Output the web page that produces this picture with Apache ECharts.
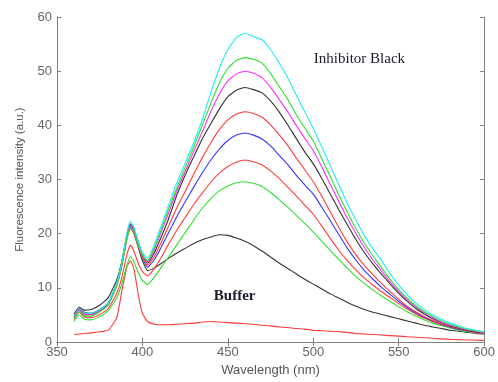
<!DOCTYPE html>
<html>
<head>
<meta charset="utf-8">
<script src="https://cdn.jsdelivr.net/npm/echarts@6/dist/echarts.min.js"></script>
<style>
  html, body { margin: 0; padding: 0; background: #fff; }
  #chart { width: 498px; height: 382px; }
</style>
</head>
<body>
<div id="chart"></div>
<script>
// wavelengths (nm), shared by every spectrum
const wavelengths = [360,363,366,370,375,380,385,388,391,393,395,398,400,403,407,411,415,420,425,430,
  435,440,445,450,455,460,465,470,475,480,485,490,495,500,505,510,515,520,525,530,
  535,540,545,550,555,560,565,570,575,580,585,590,595,600];

const cyanVals = [4.8,6.3,5.4,5.3,6,7.3,11,15,20.3,22.3, 21.2,18.2,16.5,15.5,18,21.5,25,29.3,33,36.8,
  41,46,50.5,54,56.2,57,56.4,55.8,54,51.5, 48.8,45.6,42.5,39.4,36,32.5,29,25.5,22.5,19.6,
  17.2,15,12.6,10.5,8.7,7.2,6,5,4.2,3.5, 3,2.5,2.2,1.9];
const greenVals = [4.2,5.6,4.8,4.8,5.6,6.9,10.5,14.3,19.3,21.2, 20.3,17.5,16,15,17.5,20.8,24.3,28.4,32.2,36,
  40,44,47.8,50.5,52,52.5,52.2,51.5,49.6,47.2, 44.8,42,39.5,37.1,33.8,30.5,27.1,23.9,20.9,18.2,
  15.9,13.7,11.6,9.7,8.1,6.7,5.6,4.7,3.9,3.3, 2.8,2.4,2.1,1.8];
const magentaVals = [4.6,6.1,5.2,5.1,5.8,7.1,10.7,14.6,19.6,21.5, 20.6,17.8,16.2,14.8,17.1,20.3,23.6,27.8,31.5,35.2,
  38.8,42.5,45.8,48.2,49.5,50,49.6,48.8,47,44.8, 42.5,40,37.6,35.3,32.3,29.1,25.9,22.8,20,17.4,
  15.1,13.1,11.1,9.3,7.8,6.5,5.4,4.5,3.7,3.1, 2.7,2.3,2,1.7];
const blackVals = [5,6.4,5.5,5.3,6,7.2,10.8,14.8,19.9,21.8, 20.8,18,16.1,14.6,16.5,19.4,22.5,27,30.8,34.2,
  37.5,40.3,43,45.3,46.5,47,46.6,46,44.5,42.5, 40.1,37.6,35.1,32.9,30.2,27.3,24.4,21.6,18.9,16.5,
  14.4,12.5,10.7,9,7.5,6.2,5.2,4.3,3.6,3, 2.6,2.2,1.9,1.7];
const redVals = [4.4,5.9,5,5,5.7,6.9,10.4,14.1,19.1,21, 20,17.2,15.6,14.2,15.8,18.4,21.2,24.7,27.8,31,
  34,36.8,39.2,41,42.1,42.5,42.2,41.5,40.1,38.3, 36.3,34,31.8,29.6,26.9,24,21.1,18.4,16.1,14.1,
  12.4,10.8,9.3,7.9,6.6,5.6,4.7,4,3.4,2.9, 2.5,2.1,1.8,1.6];
const blueVals = [4.7,6.2,5.2,5.1,5.9,7.1,10.6,14.5,19.5,21.4, 20.4,17.6,15.6,13.8,15.2,17.5,20,23.1,25.9,28.6,
  31.2,33.6,35.6,37.2,38.2,38.6,38.2,37.5,36.2,34.5, 32.8,30.8,29,27.3,24.9,22.4,19.8,17.3,15.1,13.2,
  11.6,10.1,8.8,7.5,6.4,5.4,4.6,3.9,3.3,2.8, 2.4,2.1,1.8,1.6];
const red2Vals = [4.2,5.5,4.6,4.5,5.1,6.2,9,12,16.3,17.9, 16.8,14.2,13,12.2,13.6,15.6,17.9,20.6,23,25.4,
  27.5,29.5,31.2,32.4,33.2,33.6,33.3,32.7,31.6,30.2, 28.6,27,25.3,23.6,21.4,19.1,16.9,15,13.3,11.8,
  10.5,9.3,8.2,7.1,6.1,5.2,4.4,3.8,3.2,2.8, 2.4,2.1,1.8,1.6];
const green2Vals = [3.8,5,4.2,4.1,4.7,5.8,8.2,10.8,14.3,15.8, 14.8,12.5,11.4,10.6,12,13.8,15.6,17.9,20.2,22.5,
  24.7,26.5,27.9,28.8,29.4,29.6,29.3,28.7,27.6,26.3, 24.9,23.4,21.9,20.3,18.6,16.9,15.2,13.6,12.1,10.8,
  9.6,8.5,7.5,6.5,5.6,4.8,4.1,3.5,3,2.6, 2.2,1.9,1.7,1.5];
const black2Vals = [5.2,6.4,5.9,6,6.8,8.2,11.5,15,19.6,21.2, 20.2,17,15,13.2,13.7,14.5,15.4,16.4,17.3,18.2,
  18.9,19.4,19.8,19.7,19.2,18.6,17.8,16.8,15.7,14.6, 13.6,12.6,11.6,10.7,9.8,8.9,8.1,7.3,6.6,6,
  5.5,5.1,4.7,4.3,3.9,3.5,3.1,2.8,2.5,2.2, 2,1.8,1.6,1.5];
const bufferVals = [1.4,1.5,1.6,1.7,1.9,2.2,4.5,9.5,14,15, 13.5,8,5.3,3.8,3.3,3.2,3.2,3.3,3.4,3.5,
  3.7,3.8,3.7,3.6,3.5,3.4,3.3,3.1,3,2.8, 2.7,2.5,2.4,2.2,2.1,2,1.9,1.8,1.6,1.5,
  1.4,1.3,1.2,1.1,1,0.9,0.8,0.7,0.6,0.5, 0.45,0.4,0.35,0.3];

const xTicks = [350, 600, 50];
const yTicks = [0, 60, 10];

const spectra = [
  { name: 'buffer', color: '#ff3b3b', vals: bufferVals },
  { name: 'black2', color: '#333333', vals: black2Vals },
  { name: 'green2', color: '#2ee02e', vals: green2Vals },
  { name: 'red2', color: '#ff3b3b', vals: red2Vals },
  { name: 'blue', color: '#3535ff', vals: blueVals },
  { name: 'red', color: '#ff3b3b', vals: redVals },
  { name: 'black', color: '#333333', vals: blackVals },
  { name: 'magenta', color: '#ff2bff', vals: magentaVals },
  { name: 'green', color: '#2ee02e', vals: greenVals },
  { name: 'cyan', color: '#1fecf2', vals: cyanVals },
];

const frameColor = '#808080';
const labelColor = '#666';

const chart = echarts.init(document.getElementById('chart'), null, { renderer: 'canvas' });

function frameAxis(extra) {
  return Object.assign({
    type: 'value',
    axisLine: { show: true, lineStyle: { color: frameColor, width: 1 } },
    axisTick: { show: true, inside: true, length: 4, lineStyle: { color: frameColor } },
    splitLine: { show: false },
  }, extra);
}

chart.setOption({
  animation: false,
  grid: { left: 57, right: 8, top: 17, bottom: 33 },
  xAxis: [
    frameAxis({
      position: 'bottom', min: xTicks[0], max: xTicks[1], interval: xTicks[2],
      name: 'Wavelength (nm)', nameLocation: 'middle', nameGap: 21,
      nameTextStyle: { color: '#555', fontSize: 13, fontFamily: 'Arial, Liberation Sans' },
      axisLabel: { color: labelColor, fontSize: 13, margin: 4, fontFamily: 'Arial, Liberation Sans' },
    }),
    frameAxis({
      position: 'top', min: xTicks[0], max: xTicks[1], interval: xTicks[2],
      axisLabel: { show: false },
    }),
  ],
  yAxis: [
    frameAxis({
      position: 'left', min: yTicks[0], max: yTicks[1], interval: yTicks[2],
      name: 'Fluorescence intensity (a.u.)', nameLocation: 'middle', nameGap: 31,
      nameTextStyle: { color: '#555', fontSize: 11.5, fontFamily: 'Arial, Liberation Sans' },
      axisLabel: { color: labelColor, fontSize: 13, margin: 5, fontFamily: 'Arial, Liberation Sans' },
    }),
    frameAxis({
      position: 'right', min: yTicks[0], max: yTicks[1], interval: yTicks[2],
      axisLabel: { show: false },
    }),
  ],
  series: spectra.map(s => ({
    name: s.name,
    type: 'line',
    showSymbol: false,
    smooth: 0.15,
    lineStyle: { color: s.color, width: 1.1 },
    data: wavelengths.map((w, i) => [w, s.vals[i]]),
  })),
});

const inhibitorPos = chart.convertToPixel({ gridIndex: 0 }, [527, 52.2]);
const bufferPos = chart.convertToPixel({ gridIndex: 0 }, [454, 8.4]);

chart.setOption({
  graphic: [
    {
      type: 'text', x: inhibitorPos[0], y: inhibitorPos[1],
      style: { text: 'Inhibitor Black', fill: '#1c1c2c', font: '15px "Liberation Serif", serif',
        textAlign: 'center', textVerticalAlign: 'middle' },
    },
    {
      type: 'text', x: bufferPos[0], y: bufferPos[1],
      style: { text: 'Buffer', fill: '#1c1c2c', font: 'bold 15px "Liberation Serif", serif',
        textAlign: 'center', textVerticalAlign: 'middle' },
    },
  ],
});
</script>
</body>
</html>
